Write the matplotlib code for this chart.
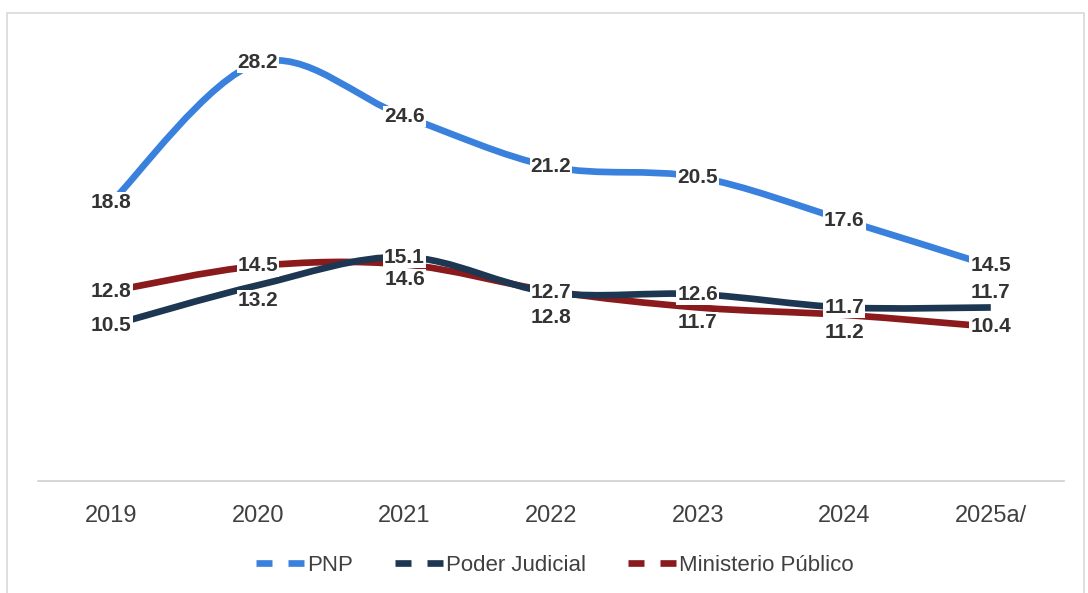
import matplotlib.pyplot as plt
from matplotlib.path import Path
from matplotlib.patches import PathPatch, Rectangle
from matplotlib.lines import Line2D

plt.rcParams["font.family"] = ["Liberation Sans", "DejaVu Sans"]

years = ["2019", "2020", "2021", "2022", "2023", "2024", "2025a/"]
pnp = [18.8, 28.2, 24.6, 21.2, 20.5, 17.6, 14.5]
poder_judicial = [10.5, 13.2, 15.1, 12.7, 12.6, 11.7, 11.7]
ministerio_publico = [12.8, 14.5, 14.6, 12.8, 11.7, 11.2, 10.4]

series_names = ["PNP", "Poder Judicial", "Ministerio Público"]
colors = ["#3a80dd", "#1d3651", "#8a1a1c"]

# vertical nudges for labels that would collide (points, + is down)
label_shift = {
    "PNP": [0, 0, 0, 0, 0, 0, 0],
    "Poder Judicial": [0, 11, 0, 0, 0, 0, -11],
    "Ministerio Público": [0, 0, 11, 19, 11, 13, 0],
}


def smooth_path(xs, ys):
    # Catmull-Rom style cubic bezier through every point
    pts = list(zip(xs, ys))
    verts = [pts[0]]
    codes = [Path.MOVETO]
    n = len(pts)
    for i in range(n - 1):
        p0 = pts[i - 1] if i > 0 else pts[i]
        p1 = pts[i]
        p2 = pts[i + 1]
        p3 = pts[i + 2] if i + 2 < n else pts[i + 1]
        c1 = (p1[0] + (p2[0] - p0[0]) / 6, p1[1] + (p2[1] - p0[1]) / 6)
        c2 = (p2[0] - (p3[0] - p1[0]) / 6, p2[1] - (p3[1] - p1[1]) / 6)
        verts += [c1, c2, p2]
        codes += [Path.CURVE4] * 3
    return Path(verts, codes)


fig = plt.figure(figsize=(10.88, 5.93), dpi=100)
ax = fig.add_axes([0.035, 0.189, 0.943, 0.750])

# light frame round the whole chart
fig.patches.append(Rectangle((0.006, -0.02), 0.99, 0.998, transform=fig.transFigure,
                             fill=False, edgecolor="#d9d9d9", linewidth=1.2))

x = list(range(len(years)))
all_series = [pnp, poder_judicial, ministerio_publico]

for vals, color, z in zip(all_series, colors, [3, 3, 2]):
    patch = PathPatch(smooth_path(x, vals), facecolor="none", edgecolor=color,
                      linewidth=4.8, capstyle="butt", zorder=z)
    ax.add_patch(patch)

for name, vals in zip(series_names, all_series):
    for xi, v, dy in zip(x, vals, label_shift[name]):
        ax.annotate(f"{v:.1f}", (xi, v), xytext=(0, -dy), textcoords="offset points",
                    ha="center", va="center", fontsize=15, fontweight="bold",
                    color="#333333", zorder=5,
                    bbox=dict(boxstyle="square,pad=0.05", facecolor="white", edgecolor="none"))

ax.set_xlim(-0.5, len(years) - 0.5)
ax.set_ylim(0, 30)
ax.set_xticks(x)
ax.set_xticklabels(years, fontsize=17, color="#404040")
ax.tick_params(axis="x", length=0, pad=17)
ax.set_yticks([])
for side in ["top", "left", "right"]:
    ax.spines[side].set_visible(False)
ax.spines["bottom"].set_color("#d0d0d0")
ax.spines["bottom"].set_linewidth(1.2)

handles = [Line2D([0], [0], color=c, linewidth=4.8, linestyle=(0, (2.4, 2.4)))
           for c in colors]
fig.legend(handles, series_names, loc="center", bbox_to_anchor=(0.51, 0.046), ncol=3,
           frameon=False, fontsize=16, handlelength=2.2, handletextpad=0.1,
           columnspacing=1.9, labelcolor="#404040")

fig.savefig("out.png", dpi=100)
